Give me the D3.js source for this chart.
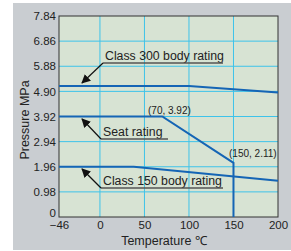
<!DOCTYPE html>
<html>
<head>
<meta charset="utf-8">
<script src="https://cdn.jsdelivr.net/npm/d3@7"></script>
<style>
  body { margin: 0; background: #fff; }
  text { font-family: "Liberation Sans", Arial, sans-serif; fill: #222; }
</style>
</head>
<body>
<div id="chart"></div>
<script>
// données
const xTicks = [-46, 0, 50, 100, 150, 200];
const yTicks = [0, 0.98, 1.96, 2.94, 3.92, 4.90, 5.88, 6.86, 7.84];
const class300 = [[-46, 5.11], [100, 5.11], [200, 4.86]];
const seat = [[-46, 3.92], [70, 3.92], [150, 2.11], [150, 0]];
const class150 = [[-46, 1.96], [38, 1.96], [200, 1.41]];

const W = 291, H = 251;
const margin = { top: 16, right: 13, bottom: 34, left: 59 };
const width = W - margin.left - margin.right;
const height = H - margin.top - margin.bottom;

const svg = d3.select('#chart').append('svg')
  .attr('width', W).attr('height', H);

// fond gris
svg.append('rect').attr('x', 13).attr('y', 3).attr('width', W - 13).attr('height', 247)
  .style('fill', '#c9cdd1');

svg.append('defs').append('marker')
  .attr('id', 'arrow').attr('viewBox', '0 0 10 10')
  .attr('refX', 9).attr('refY', 5)
  .attr('markerWidth', 9).attr('markerHeight', 9)
  .attr('markerUnits', 'userSpaceOnUse')
  .attr('orient', 'auto')
  .append('path').attr('d', 'M0,0L10,5L0,10z').style('fill', '#111');

const g = svg.append('g').attr('transform', `translate(${margin.left},${margin.top})`);

const x = d3.scaleLinear().domain([-46, 200]).range([0, width]);
const y = d3.scaleLinear().domain([0, 7.84]).range([height, 0]);

g.append('rect').attr('width', width).attr('height', height).style('fill', '#d7e3d3');

// grille
g.append('g').selectAll('line').data(yTicks.slice(1, -1)).enter().append('line')
  .attr('x1', 0).attr('x2', width)
  .attr('y1', d => y(d)).attr('y2', d => y(d))
  .style('stroke', '#3ec3ea').style('stroke-width', 1);
g.append('g').selectAll('line').data(xTicks.slice(1, -1)).enter().append('line')
  .attr('y1', 0).attr('y2', height)
  .attr('x1', d => x(d)).attr('x2', d => x(d))
  .style('stroke', '#3ec3ea').style('stroke-width', 1);

// axes
const xAxis = g.append('g').attr('transform', `translate(0,${height})`)
  .call(d3.axisBottom(x).tickValues(xTicks).tickSize(0).tickPadding(4)
    .tickFormat(d => d < 0 ? '\u2212' + Math.abs(d) : d));
const yAxis = g.append('g')
  .call(d3.axisLeft(y).tickValues(yTicks).tickSize(0).tickPadding(3)
    .tickFormat(d => d === 0 ? '0' : d3.format('.2f')(d)));
[xAxis, yAxis].forEach(a => {
  a.select('.domain').remove();
  a.selectAll('text').style('font-size', '11.5px').style('fill', '#222');
});
// le "0" est un peu remonté
yAxis.selectAll('.tick').filter(d => d === 0).select('text').attr('y', -4);

g.append('rect').attr('width', width).attr('height', height)
  .style('fill', 'none').style('stroke', '#333').style('stroke-width', 1);

// courbes
const line = d3.line().x(d => x(d[0])).y(d => y(d[1]));
[class300, seat, class150].forEach(s => {
  g.append('path').datum(s).attr('d', line)
    .style('fill', 'none').style('stroke', '#1565b5').style('stroke-width', 2);
});

// étiquettes avec flèches
function label(text, tx, ty, ulen, ax, ay) {
  svg.append('text').attr('x', tx + 2).attr('y', ty - 3)
    .style('font-size', '12.3px').text(text);
  svg.append('line').attr('x1', tx).attr('x2', tx + ulen).attr('y1', ty).attr('y2', ty)
    .style('stroke', '#555').style('stroke-width', 1.5);
  svg.append('line').attr('x1', tx).attr('y1', ty).attr('x2', ax).attr('y2', ay)
    .style('stroke', '#111').style('stroke-width', 1.2)
    .attr('marker-end', 'url(#arrow)');
}
label('Class 300 body rating', 103, 63, 120, 82, 83);
label('Seat rating', 101, 139, 67, 82, 119);
label('Class 150 body rating', 101, 188, 122, 82, 169);

svg.append('text').attr('x', 148).attr('y', 114).style('font-size', '10px').text('(70, 3.92)');
svg.append('text').attr('x', 229).attr('y', 157).style('font-size', '10px').text('(150, 2.11)');

svg.append('text').attr('x', 164).attr('y', 245).attr('text-anchor', 'middle')
  .style('font-size', '12.5px').text('Temperature \u2103');
svg.append('text').attr('transform', 'translate(29,120) rotate(-90)').attr('text-anchor', 'middle')
  .style('font-size', '12.5px').text('Pressure MPa');
</script>
</body>
</html>
